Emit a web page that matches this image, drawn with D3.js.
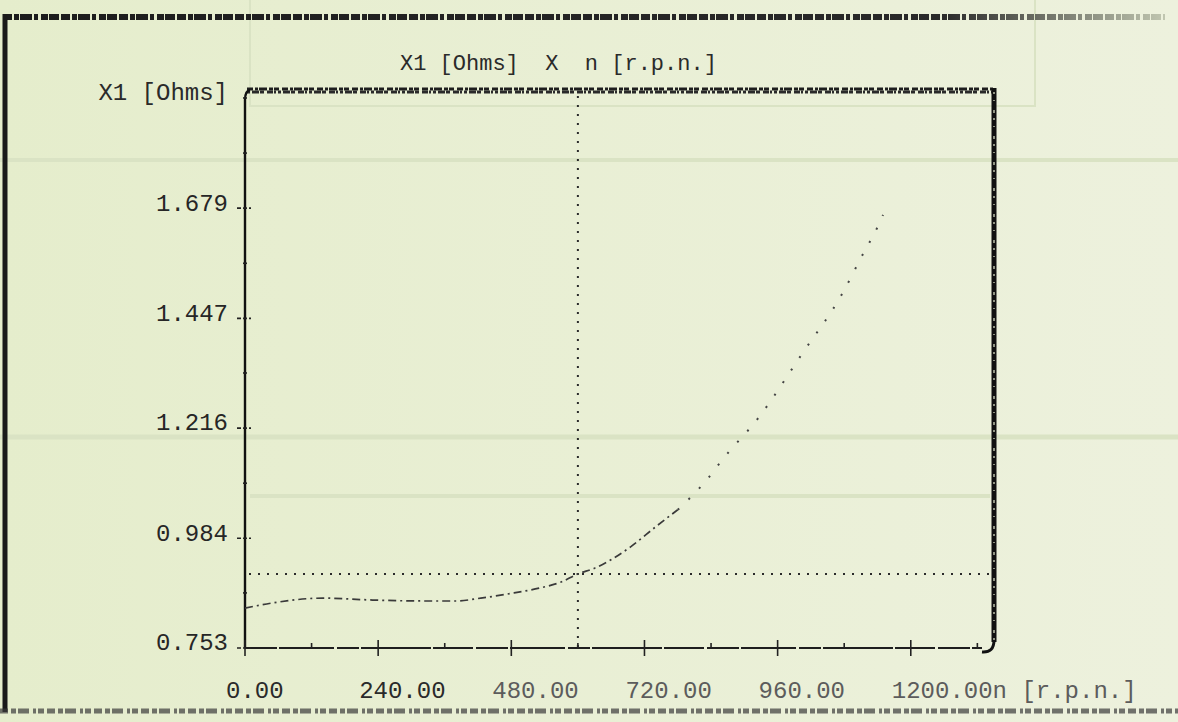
<!DOCTYPE html>
<html>
<head>
<meta charset="utf-8">
<script src="https://cdn.jsdelivr.net/npm/d3@7"></script>
<style>
    body { margin: 0; background: #e8efd2; }
    #vis { width: 1178px; height: 722px; }
    text { font-family: "Liberation Mono", "DejaVu Sans Mono", monospace; }
</style>
</head>
<body>
<div id="vis"></div>
<script>
// rotation speed n [r.p.n.] and stator reactance X1 [Ohms]
var speed = [0, 50, 140, 230, 320, 380, 425, 485, 530, 570, 600, 630, 695, 740, 780, 835, 860, 925, 1005, 1075, 1115, 1140, 1150];
var reactance = [0.837, 0.848, 0.858, 0.854, 0.852, 0.852, 0.858, 0.869, 0.879, 0.892, 0.909, 0.921, 0.966, 1.008, 1.044, 1.111, 1.149, 1.237, 1.374, 1.496, 1.585, 1.639, 1.665];

var ratedSpeed = 600;
var ratedReactance = 0.909;

var xTicks = [0, 120, 240, 360, 480, 600, 720, 840, 960, 1080, 1200, 1320];
var xLabels = [0, 240, 480, 720, 960, 1200];
var yTicks = [0.753, 0.869, 0.984, 1.100, 1.216, 1.332, 1.447, 1.563, 1.679, 1.795, 1.911];
var yLabels = [0.753, 0.984, 1.216, 1.447, 1.679];

var title = 'X1 [Ohms]  X  n [r.p.n.]';
var yTitle = 'X1 [Ohms]';
var xTitle = 'n [r.p.n.]';

var width = 1178;
var height = 722;

var svg = d3.select('#vis')
    .append('svg')
    .attr('width', width)
    .attr('height', height);

var defs = svg.append('defs');
var bg = defs.append('linearGradient').attr('id', 'bg');
bg.append('stop').attr('offset', '0').attr('stop-color', '#e5edcc');
bg.append('stop').attr('offset', '1').attr('stop-color', '#edf1dd');

var fade = defs.append('linearGradient').attr('id', 'fade')
    .attr('gradientUnits', 'userSpaceOnUse')
    .attr('x1', 0).attr('x2', 1178);
fade.append('stop').attr('offset', '0').attr('stop-color', '#1c1c1c');
fade.append('stop').attr('offset', '0.8').attr('stop-color', '#2a2a2a');
fade.append('stop').attr('offset', '1').attr('stop-color', '#c9cfb8');

svg.append('rect')
    .attr('width', width)
    .attr('height', height)
    .attr('fill', 'url(#bg)');

// faint bands of the page behind
var ghost = svg.append('g').attr('fill', 'none').attr('stroke', '#dae3c4');
ghost.append('rect').attr('x', 250).attr('y', -2).attr('width', 785).attr('height', 108).attr('stroke-width', 2);
ghost.append('line').attr('x1', 0).attr('x2', 1178).attr('y1', 160).attr('y2', 160).attr('stroke-width', 4);
ghost.append('line').attr('x1', 0).attr('x2', 1178).attr('y1', 437).attr('y2', 437).attr('stroke-width', 5);
ghost.append('line').attr('x1', 250).attr('x2', 990).attr('y1', 496).attr('y2', 496).attr('stroke-width', 4);

// printer frame of the page
var frame = svg.append('g').attr('fill', 'none');
frame.append('line')
    .attr('x1', 3).attr('x2', 1165).attr('y1', 17).attr('y2', 17)
    .attr('stroke', 'url(#fade)').attr('stroke-width', 6)
    .attr('stroke-dasharray', '9,2,5,1,12,2,4,3,7,1,10,2');
frame.append('line')
    .attr('x1', 5).attr('x2', 5).attr('y1', 14).attr('y2', 712)
    .attr('stroke', '#1a1a1a').attr('stroke-width', 5);
frame.append('line')
    .attr('x1', 0).attr('x2', 1178).attr('y1', 711).attr('y2', 711)
    .attr('stroke', '#3a3a3a').attr('stroke-width', 5).attr('stroke-opacity', 0.7)
    .attr('stroke-dasharray', '8,3,5,2,11,4,3,2,6,3');

var x_scale = d3.scaleLinear()
    .domain([0, 1350])
    .range([245, 994]);

var y_scale = d3.scaleLinear()
    .domain([0.753, 1.932])
    .range([648, 88]);

var plot = svg.append('g');
var x0 = x_scale(0), x1 = x_scale(1350);
var y0 = y_scale(0.753), yTop = y_scale(1.932);

// box: garbled top row, heavy right side, solid left axis
plot.append('line')
    .attr('x1', x0 + 2).attr('x2', x1).attr('y1', yTop + 1).attr('y2', yTop + 1)
    .attr('stroke', '#1e1e1e').attr('stroke-width', 3)
    .attr('stroke-dasharray', '6,2,3,1,8,2,4,1,5,3');
plot.append('line')
    .attr('x1', x0 + 2).attr('x2', x1).attr('y1', yTop + 4).attr('y2', yTop + 4)
    .attr('stroke', '#2a2a2a').attr('stroke-width', 3)
    .attr('stroke-dasharray', '3,2,7,1,4,3,6,1,2,2');
plot.append('line')
    .attr('x1', x1).attr('x2', x1).attr('y1', yTop).attr('y2', y0 - 6)
    .attr('stroke', '#111').attr('stroke-width', 5);
plot.append('line')
    .attr('x1', x1).attr('x2', x1).attr('y1', yTop + 4).attr('y2', y0 - 8)
    .attr('stroke', '#e8efd2').attr('stroke-width', 1.2)
    .attr('stroke-dasharray', '2,6,1,9,3,5');
plot.append('path')
    .attr('d', 'M' + x1 + ',' + (y0 - 8) + 'Q' + x1 + ',' + (y0 + 5) + ' ' + (x1 - 12) + ',' + (y0 + 4))
    .attr('fill', 'none').attr('stroke', '#111').attr('stroke-width', 3);
plot.append('path')
    .attr('d', 'M' + x0 + ',' + y0 + 'L' + x0 + ',' + (yTop + 12) + 'Q' + x0 + ',' + (yTop + 3) + ' ' + (x0 + 5) + ',' + (yTop + 2))
    .attr('fill', 'none').attr('stroke', '#111').attr('stroke-width', 2.4);
plot.append('line')
    .attr('x1', x0).attr('x2', x1 - 12).attr('y1', y0).attr('y2', y0)
    .attr('stroke', '#1e1e1e').attr('stroke-width', 2)
    .attr('stroke-dasharray', '32,2,55,3,22,2,70,2,40,3');

// ticks
plot.selectAll('.xtick')
    .data(xTicks)
    .enter()
    .append('line')
    .attr('class', 'xtick')
    .attr('x1', function (d) { return x_scale(d); })
    .attr('x2', function (d) { return x_scale(d); })
    .attr('y1', function (d) { return d % 240 === 0 ? y0 - 8 : y0 - 5; })
    .attr('y2', function (d) { return d % 240 === 0 ? y0 + 8 : y0; })
    .attr('stroke', '#222')
    .attr('stroke-width', 1.6);

plot.selectAll('.ytick')
    .data(yTicks)
    .enter()
    .append('line')
    .attr('class', 'ytick')
    .attr('x1', function (d) { return yLabels.indexOf(d) >= 0 ? x0 - 8 : x0 - 2; })
    .attr('x2', function (d) { return yLabels.indexOf(d) >= 0 ? x0 + 6 : x0 + 2; })
    .attr('y1', function (d) { return y_scale(d); })
    .attr('y2', function (d) { return y_scale(d); })
    .attr('stroke', '#222')
    .attr('stroke-width', 1.6)
    .attr('stroke-dasharray', function (d) { return yLabels.indexOf(d) >= 0 ? '4,2' : null; });

// rated point guides
plot.append('line')
    .attr('x1', x_scale(ratedSpeed)).attr('x2', x_scale(ratedSpeed))
    .attr('y1', yTop + 8).attr('y2', y0)
    .attr('stroke', '#2a2a2a').attr('stroke-width', 2)
    .attr('stroke-dasharray', '2,7');
plot.append('line')
    .attr('x1', x0 + 4).attr('x2', x1 - 4)
    .attr('y1', y_scale(ratedReactance)).attr('y2', y_scale(ratedReactance))
    .attr('stroke', '#2a2a2a').attr('stroke-width', 2)
    .attr('stroke-dasharray', '2,7');

// the curve: dash-dot where flat, sparse dots on the steep part
var line = d3.line()
    .x(function (d) { return x_scale(d[0]); })
    .y(function (d) { return y_scale(d[1]); })
    .curve(d3.curveMonotoneX);

var points = speed.map(function (d, i) { return [d, reactance[i]]; });

plot.append('path')
    .datum(points.filter(function (d) { return d[0] <= 780; }))
    .attr('d', line)
    .attr('fill', 'none')
    .attr('stroke', '#3a3a3a')
    .attr('stroke-width', 1.7)
    .attr('stroke-dasharray', '8,4,2,4');

plot.append('path')
    .datum(points.filter(function (d) { return d[0] >= 780; }))
    .attr('d', line)
    .attr('fill', 'none')
    .attr('stroke', '#444')
    .attr('stroke-width', 2)
    .attr('stroke-dasharray', '2,13');

// labels
plot.selectAll('.ylabel')
    .data(yLabels)
    .enter()
    .append('text')
    .attr('class', 'ylabel')
    .attr('x', 228)
    .attr('y', function (d) { return y_scale(d) - 6; })
    .attr('dy', '0.35em')
    .attr('text-anchor', 'end')
    .attr('font-size', 24)
    .attr('fill', '#262626')
    .text(function (d) { return d.toFixed(3); });

plot.selectAll('.xlabel')
    .data(xLabels)
    .enter()
    .append('text')
    .attr('class', 'xlabel')
    .attr('x', function (d) { return x_scale(d) - 19; })
    .attr('y', 698)
    .attr('font-size', 24)
    .attr('fill', function (d, i) { return i < 2 ? '#2a2a2a' : '#5c5c5c'; })
    .text(function (d, i) {
        return d.toFixed(2) + (i === xLabels.length - 1 ? xTitle : '');
    });

svg.append('text')
    .attr('x', 228)
    .attr('y', 100)
    .attr('text-anchor', 'end')
    .attr('font-size', 24)
    .attr('fill', '#2a2a2a')
    .text(yTitle);

svg.append('text')
    .attr('x', 400)
    .attr('y', 70)
    .attr('font-size', 22)
    .attr('fill', '#2a2a2a')
    .attr('xml:space', 'preserve')
    .style('white-space', 'pre')
    .text(title);
</script>
</body>
</html>
